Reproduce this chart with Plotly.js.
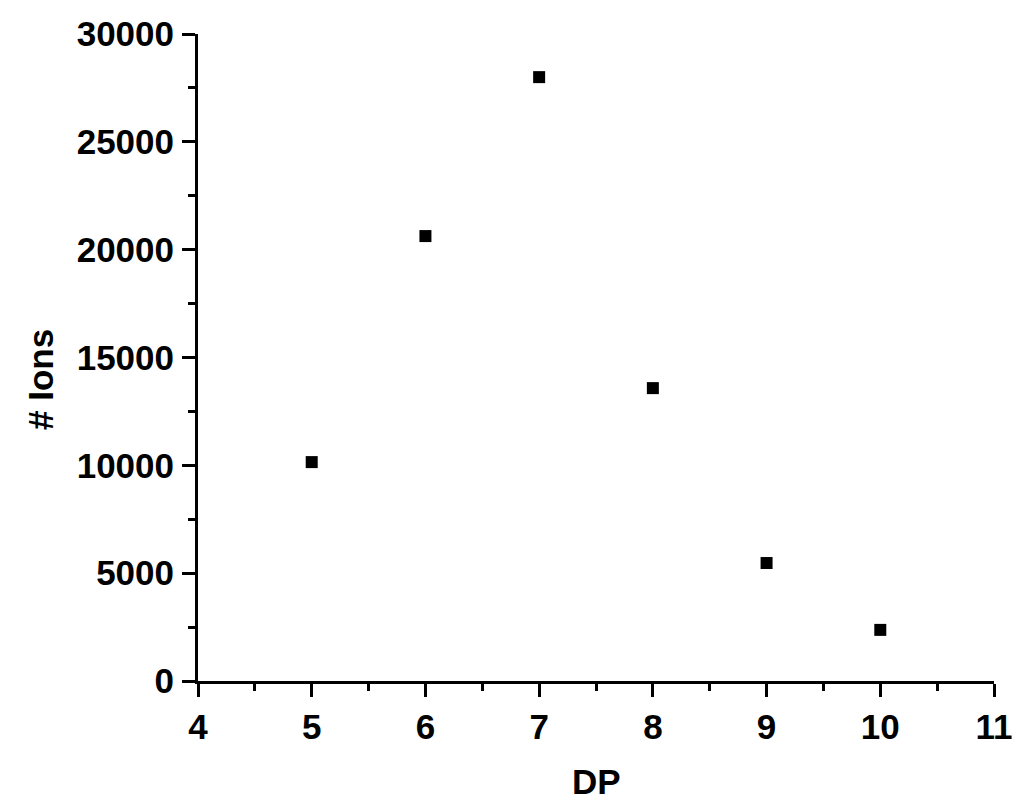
<!DOCTYPE html>
<html>
<head>
<meta charset="utf-8">
<script src="https://cdn.plot.ly/plotly-3.0.1.min.js"></script>
<style>html,body{margin:0;padding:0;background:#fff;}#chart{width:1024px;height:811px;}</style>
</head>
<body>
<div id="chart"></div>
<script>
const dp = [5, 6, 7, 8, 9, 10];
const ions = [10150, 20630, 28000, 13580, 5470, 2370];
const xTickVals = [4, 5, 6, 7, 8, 9, 10, 11];
const yTickVals = [0, 5000, 10000, 15000, 20000, 25000, 30000];
const yTickText = ['0', '5000', '10000', '15000', '20000', '25000', '30000'];
const xTitle = 'DP';
const yTitle = '# Ions';

const font = {family: 'Liberation Sans, Arial, sans-serif', size: 35, color: '#000', weight: 700};

const trace = {
  x: dp, y: ions, type: 'scatter', mode: 'markers',
  marker: {symbol: 'square', size: 12, color: '#000', line: {width: 0}},
  hoverinfo: 'x+y'
};

const axisCommon = {
  showline: true, linecolor: '#000', linewidth: 3,
  ticks: 'outside', ticklen: 13, tickwidth: 3, tickcolor: '#000',
  showgrid: false, zeroline: false, tickfont: font,
  mirror: false, fixedrange: true
};

const layout = {
  width: 1024, height: 811,
  margin: {l: 198, r: 30, t: 34, b: 130},
  paper_bgcolor: '#fff', plot_bgcolor: '#fff',
  showlegend: false,
  font: font,
  xaxis: Object.assign({}, axisCommon, {
    range: [4, 11], tickmode: 'array', tickvals: xTickVals, ticklabelstandoff: 0,
    minor: {dtick: 0.5, tick0: 4, ticks: 'outside', ticklen: 7, tickwidth: 3, tickcolor: '#000', showgrid: false}
  }),
  yaxis: Object.assign({}, axisCommon, {
    range: [0, 30000], tickmode: 'array', tickvals: yTickVals, ticktext: yTickText, ticklabelstandoff: 1,
    minor: {dtick: 2500, tick0: 0, ticks: 'outside', ticklen: 7, tickwidth: 3, tickcolor: '#000', showgrid: false}
  }),
  annotations: [
    {text: xTitle, xref: 'paper', yref: 'paper', x: (596 - 198) / 796, y: -100 / 647,
     xanchor: 'center', yanchor: 'middle', showarrow: false, font: font},
    {text: yTitle, xref: 'paper', yref: 'paper', x: -158 / 796, y: (681 - 380) / 647,
     xanchor: 'center', yanchor: 'middle', showarrow: false, font: font, textangle: -90}
  ]
};

Plotly.newPlot('chart', [trace], layout, {displayModeBar: false, staticPlot: true});
</script>
</body>
</html>
